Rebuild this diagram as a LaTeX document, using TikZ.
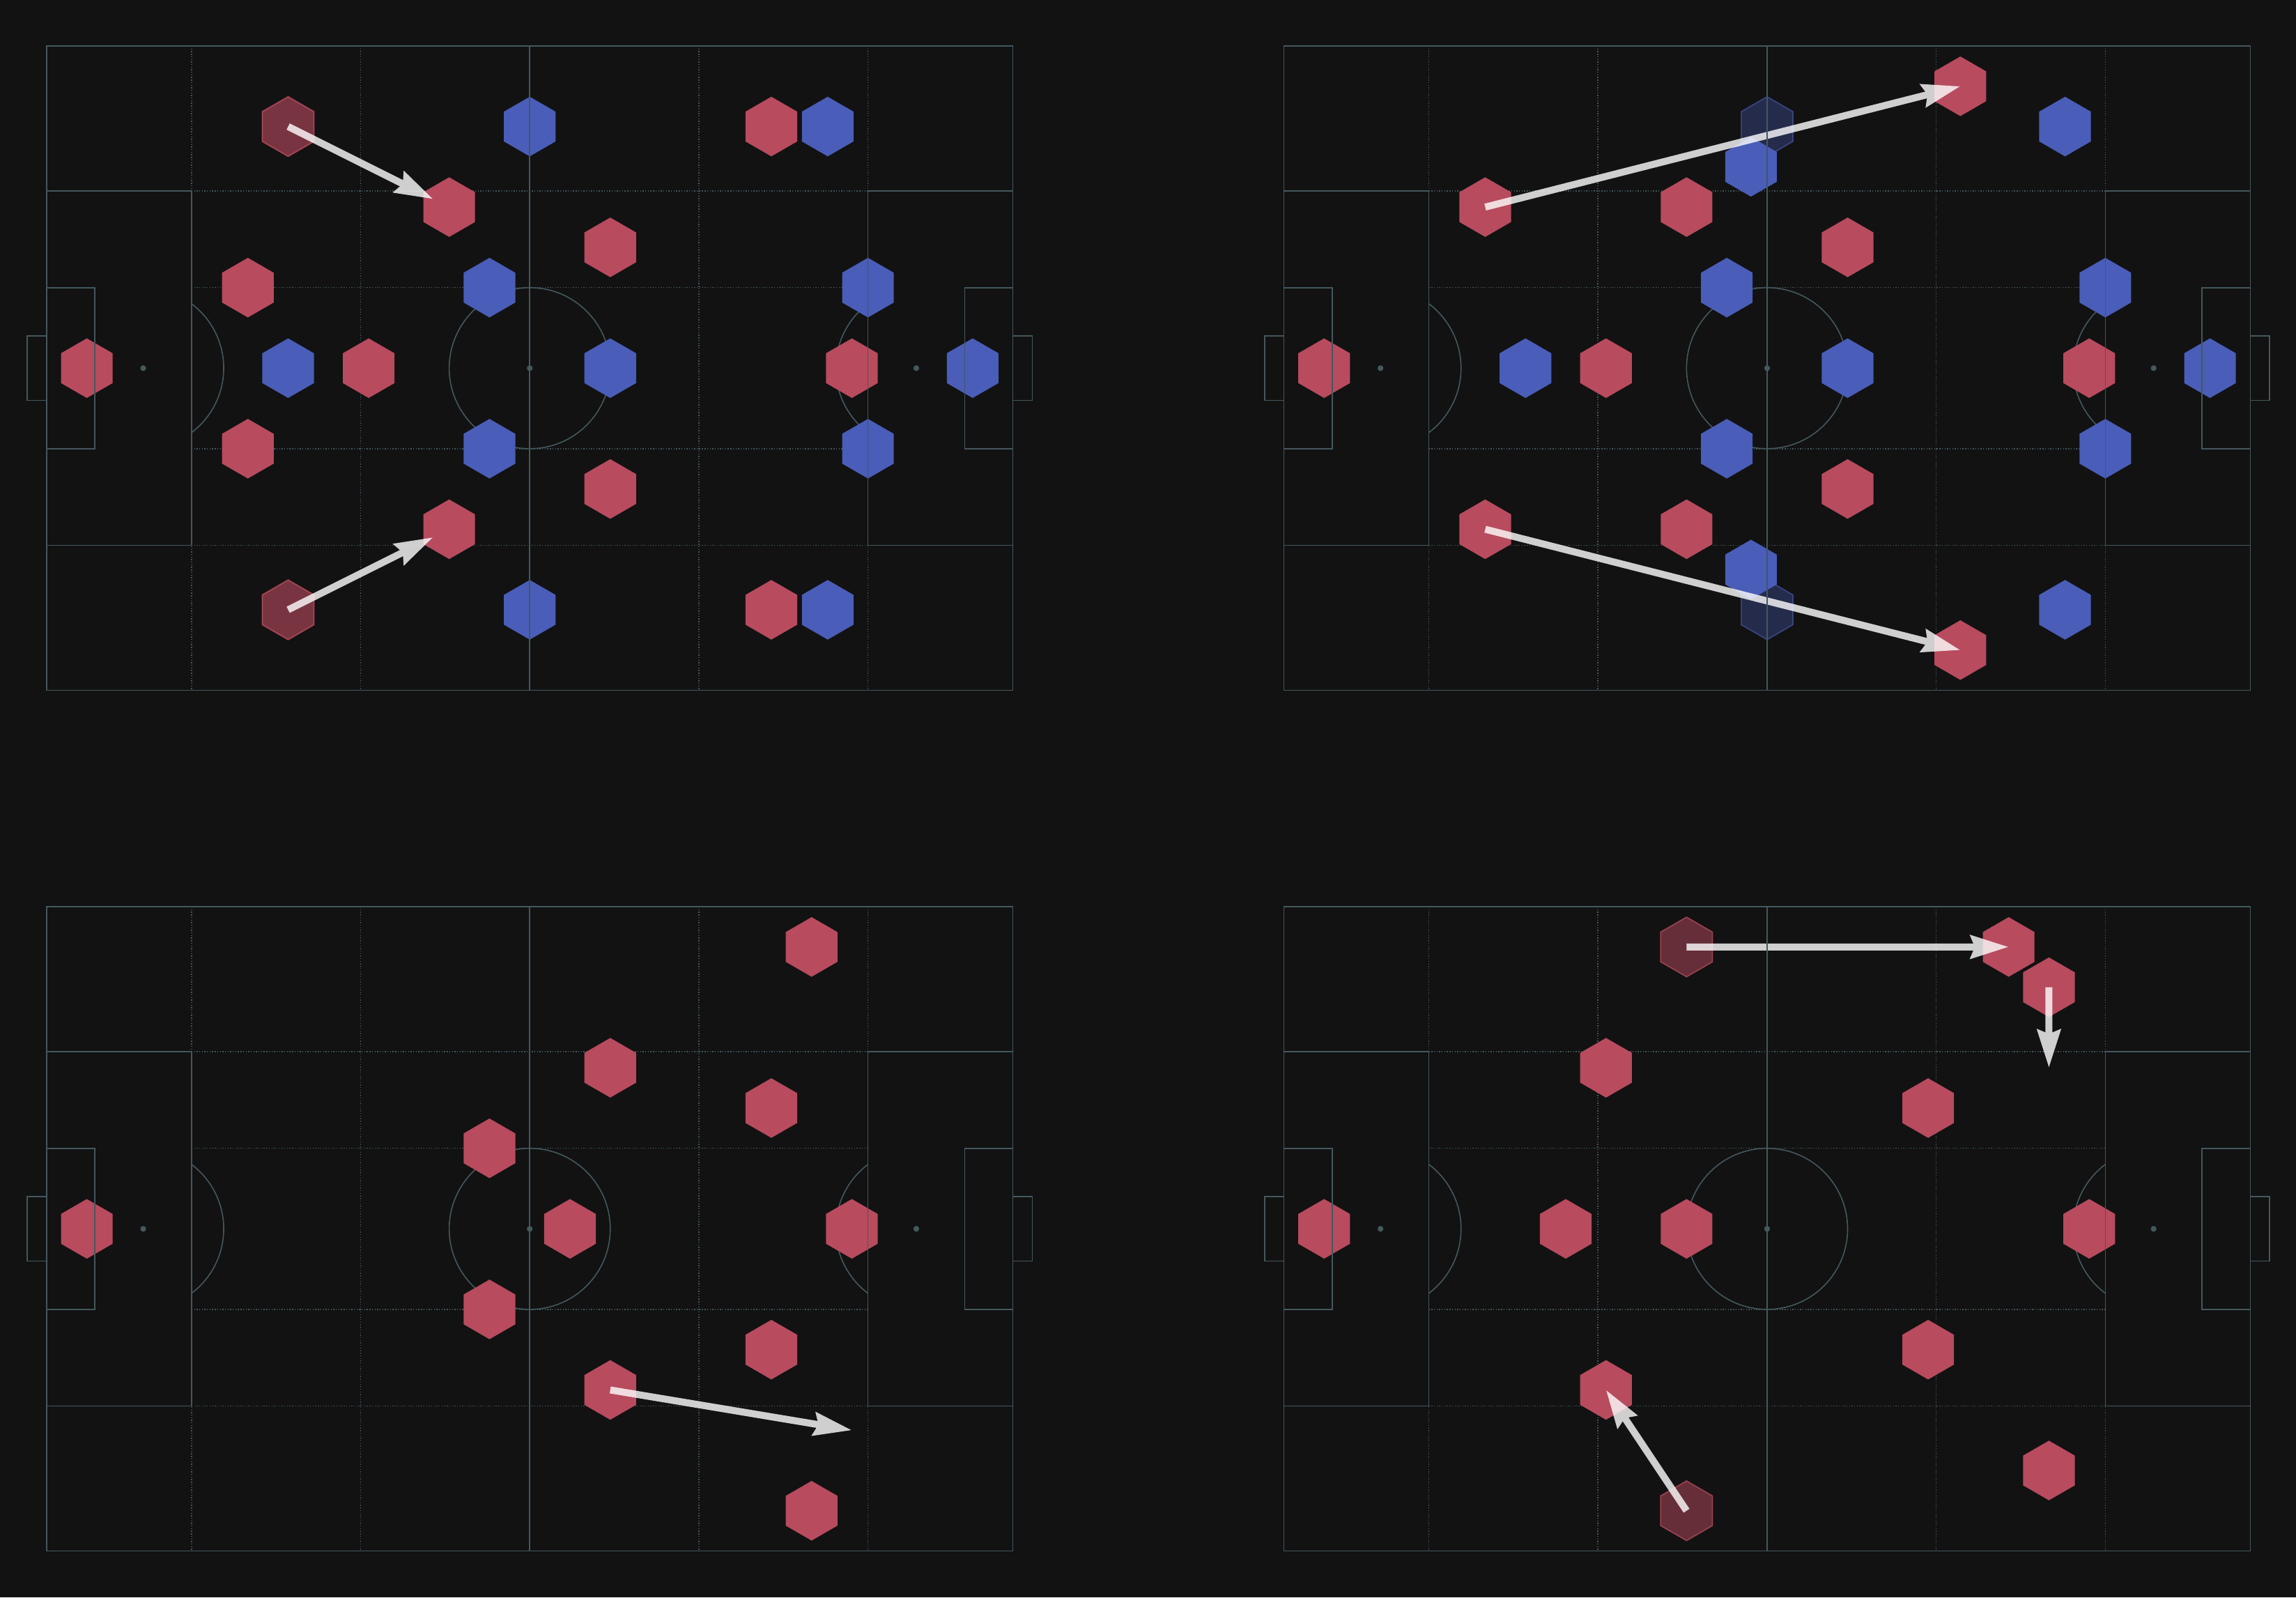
\documentclass[tikz,border=0pt]{standalone}
\usetikzlibrary{shapes.geometric,arrows.meta}
\definecolor{bgc}{HTML}{121212}
\definecolor{plc}{HTML}{44585E}
\definecolor{hred}{HTML}{B84B5E}
\definecolor{hblue}{HTML}{4A5DB8}
\tikzset{
  pline/.style={draw=plc, line width=0.32pt},
  gline/.style={draw=plc, line width=0.3pt, dash pattern=on 0.28pt off 0.46pt},
  hexbase/.style={regular polygon, regular polygon sides=6, shape border rotate=30,
    minimum size=17.12pt, inner sep=0pt, outer sep=0pt},
  rhex/.style={hexbase, fill=hred},
  bhex/.style={hexbase, fill=hblue},
  frhex/.style={hexbase, fill=hred, fill opacity=0.62, draw=hred, draw opacity=0.85, line width=0.34pt},
  frhexb/.style={hexbase, fill=hred, fill opacity=0.5, draw=hred, draw opacity=0.75, line width=0.34pt},
  fbhex/.style={hexbase, fill=hblue, fill opacity=0.35, draw=hblue, draw opacity=0.6, line width=0.34pt},
  passarrow/.style={draw=white, line width=2pt, -{Stealth[length=10.9pt,width=6.6pt,inset=1.2pt]}},
  panel/.style={x=2.3114pt, y=-2.3114pt},
  arrowgroup/.style={transparency group, opacity=0.8},
}
\newcommand\pitchbase{%
  \foreach \gx in {18,39,81,102} {\draw[gline] (\gx,0) -- (\gx,80);}
  \foreach \gy in {18,30,50,62} {\draw[gline] (18,\gy) -- (102,\gy);}
  \draw[pline] (60,40) circle[radius=10];
  \draw[pline] (12,40) ++(-53.13:10) arc[start angle=-53.13, end angle=53.13, radius=10];
  \draw[pline] (108,40) ++(126.87:10) arc[start angle=126.87, end angle=233.13, radius=10];
  \fill[plc] (12,40) circle[radius=0.36];
  \fill[plc] (60,40) circle[radius=0.36];
  \fill[plc] (108,40) circle[radius=0.36];
}
\newcommand\pitchtop{%
  \draw[pline] (0,0) rectangle (120,80);
  \draw[pline] (60,0) -- (60,80);
  \draw[pline] (0,18) -- (18,18) -- (18,62) -- (0,62);
  \draw[pline] (0,30) -- (6,30) -- (6,50) -- (0,50);
  \draw[pline] (0,36) -- (-2.4,36) -- (-2.4,44) -- (0,44);
  \draw[pline] (120,18) -- (102,18) -- (102,62) -- (120,62);
  \draw[pline] (120,30) -- (114,30) -- (114,50) -- (120,50);
  \draw[pline] (120,36) -- (122.4,36) -- (122.4,44) -- (120,44);
}
\begin{document}
\begin{tikzpicture}
\useasboundingbox (0pt,0pt) rectangle (659pt,-458.4pt);
\fill[bgc] (0pt,0pt) rectangle (659pt,-458.4pt);

% ---------- Panel A (top left)
\begin{scope}[shift={(13.36pt,-13.2pt)}, panel]
  \pitchbase
  \node[frhex] (Af1) at (30,10) {};
  \node[frhex] (Af2) at (30,70) {};
  \foreach \px/\py [count=\i] in {50/20,90/10,70/25,25/30,5/40,40/40,100/40,25/50,70/55,50/60,90/70}
    {\node[rhex] (Ar\i) at (\px,\py) {};}
  \foreach \px/\py [count=\i] in {60/10,97/10,55/30,102/30,30/40,70/40,115/40,55/50,102/50,60/70,97/70}
    {\node[bhex] (Ab\i) at (\px,\py) {};}
  \coordinate (Ae1) at (48,19);
  \coordinate (Ae2) at (48,61);
  \begin{scope}[arrowgroup]
    \draw[passarrow] (Af1.center) -- (Ae1);
    \draw[passarrow] (Af2.center) -- (Ae2);
  \end{scope}
  \pitchtop
\end{scope}

% ---------- Panel B (top right)
\begin{scope}[shift={(368.5pt,-13.2pt)}, panel]
  \pitchbase
  \node[fbhex] (Bf1) at (60,10) {};
  \node[fbhex] (Bf2) at (60,70) {};
  \foreach \px/\py [count=\i] in {25/20,84/5,50/20,70/25,5/40,40/40,100/40,70/55,25/60,50/60,84/75}
    {\node[rhex] (Br\i) at (\px,\py) {};}
  \foreach \px/\py [count=\i] in {58/15,97/10,55/30,102/30,30/40,70/40,115/40,55/50,102/50,58/65,97/70}
    {\node[bhex] (Bb\i) at (\px,\py) {};}
  \begin{scope}[arrowgroup]
    \draw[passarrow] (Br1.center) -- (Br2.center);
    \draw[passarrow] (Br9.center) -- (Br11.center);
  \end{scope}
  \pitchtop
\end{scope}

% ---------- Panel C (bottom left)
\begin{scope}[shift={(13.36pt,-260.2pt)}, panel]
  \pitchbase
  \foreach \px/\py [count=\i] in {95/5,70/20,90/25,55/30,5/40,65/40,100/40,55/50,90/55,70/60,95/75}
    {\node[rhex] (Cr\i) at (\px,\py) {};}
  \coordinate (Ce1) at (100,65);
  \begin{scope}[arrowgroup]
    \draw[passarrow] (Cr10.center) -- (Ce1);
  \end{scope}
  \pitchtop
\end{scope}

% ---------- Panel D (bottom right)
\begin{scope}[shift={(368.5pt,-260.2pt)}, panel]
  \pitchbase
  \node[frhexb] (Df1) at (50,5) {};
  \node[frhexb] (Df2) at (50,75) {};
  \foreach \px/\py [count=\i] in {90/5,95/10,40/20,80/25,5/40,35/40,50/40,100/40,80/55,40/60,95/70}
    {\node[rhex] (Dr\i) at (\px,\py) {};}
  \coordinate (De1) at (95,20);
  \begin{scope}[arrowgroup]
    \draw[passarrow] (Df1.center) -- (Dr1.center);
    \draw[passarrow] (Dr2.center) -- (De1);
    \draw[passarrow] (Df2.center) -- (Dr10.center);
  \end{scope}
  \pitchtop
\end{scope}
\end{tikzpicture}
\end{document}
